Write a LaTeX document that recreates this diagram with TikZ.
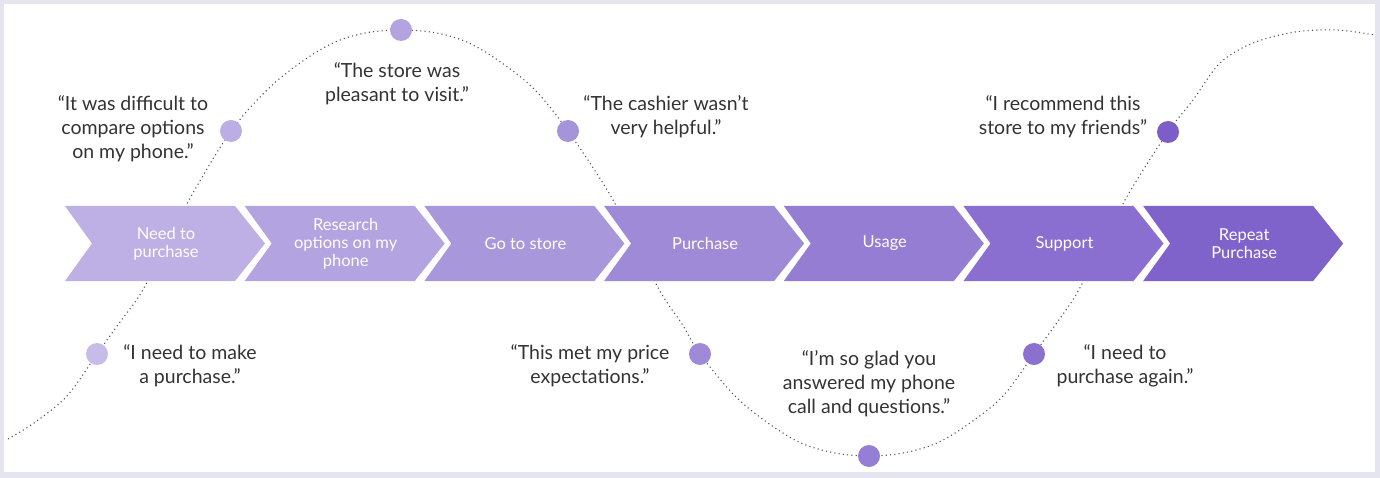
\documentclass[tikz,border=0pt]{standalone}
\usepackage{fontspec}
\setmainfont{Lato}
\definecolor{frame}{HTML}{E5E5EF}
\definecolor{qtext}{HTML}{333333}
\definecolor{cv1}{HTML}{BEB0E5}
\definecolor{cv2}{HTML}{B3A3E1}
\definecolor{cv3}{HTML}{A997DC}
\definecolor{cv4}{HTML}{9F8AD8}
\definecolor{cv5}{HTML}{957DD4}
\definecolor{cv6}{HTML}{8B6FD0}
\definecolor{cv7}{HTML}{8062CB}
\definecolor{dt1}{HTML}{C7BCE8}
\definecolor{dt2}{HTML}{BCAEE4}
\definecolor{dt3}{HTML}{B3A3E0}
\definecolor{dt4}{HTML}{A694DB}
\definecolor{dt5}{HTML}{9F8AD8}
\definecolor{dt6}{HTML}{957ED4}
\definecolor{dt7}{HTML}{8B70D0}
\definecolor{dt8}{HTML}{7C5DCA}
\definecolor{curvec}{HTML}{555555}
\tikzset{
  quote/.style={text=qtext, align=center, font=\fontsize{19.5}{24}\selectfont, inner sep=0pt},
  chevtext/.style={text=white, align=center, font=\fontsize{16.5}{18}\selectfont, inner sep=0pt},
  dotmark/.style={circle, minimum size=22pt, inner sep=0pt, draw=none},
  curveline/.style={draw=curvec, line width=1.1pt, dash pattern=on 1.1pt off 3.2pt},
}
\begin{document}
\begin{tikzpicture}[x=1pt,y=-1pt]
\fill[frame] (0,0) rectangle (1380,478);
\fill[white] (4,4) rectangle (1375,472);
\useasboundingbox (0,0) rectangle (1380,478);
% dotted journey curve
\draw[curveline] plot[smooth, tension=0.55] coordinates {
(8,439) (34,423) (67,396) (97,354) (120,322) (141,293) (167,243) (193,193) (231,131) (267,90) (300,63) (333,43) (365,33) (401,30) (437,33) (469,43) (502,63) (535,90) (568,131) (609,193) (635,243) (661,293) (682,324) (700,354) (735,396) (768,423) (801,443) (835,453) (869,456) (903,453) (937,443) (970,423) (1003,396) (1034,354) (1056,324) (1077,293) (1103,243) (1129,193) (1168,132) (1193,100) (1220,63) (1253,43) (1295,32) (1337,30) (1375,35)};
% chevrons
\foreach \i/\c/\t in {0/cv1/{Need to\\purchase},1/cv2/{Research\\options on my\\phone},2/cv3/{Go to store},3/cv4/{Purchase},4/cv5/{Usage},5/cv6/{Support},6/cv7/{Repeat\\Purchase}}{
  \pgfmathsetmacro{\L}{65+\i*179.7}
  \fill[\c] (\L,206) -- ++(170,0) -- ++(30,37.5) -- ++(-30,37.5) -- ++(-170,0) -- ++(27,-37.5) -- cycle;
  \node[chevtext] (chev\i) at (\L+101,243.5) {\t};
}
% dots
\node[dotmark, fill=dt1] (d1) at (97,354) {};
\node[dotmark, fill=dt2] (d2) at (231,131) {};
\node[dotmark, fill=dt3] (d3) at (401,30) {};
\node[dotmark, fill=dt4] (d4) at (568,131) {};
\node[dotmark, fill=dt5] (d5) at (700,354) {};
\node[dotmark, fill=dt6] (d6) at (869,456) {};
\node[dotmark, fill=dt7] (d7) at (1034,354) {};
\node[dotmark, fill=dt8] (d8) at (1168,132) {};
% quotes
\node[quote] (q1) at (190,366) {“I need to make\\a purchase.”};
\node[quote] (q2) at (133,129) {“It was difficult to\\compare options\\on my phone.”};
\node[quote] (q3) at (397,84) {“The store was\\pleasant to visit.”};
\node[quote] (q4) at (666,117) {“The cashier wasn’t\\very helpful.”};
\node[quote] (q5) at (590,366) {“This met my price\\expectations.”};
\node[quote] (q6) at (869,384) {“I’m so glad you\\answered my phone\\call and questions.”};
\node[quote] (q7) at (1125,366) {“I need to\\purchase again.”};
\node[quote] (q8) at (1063,117) {“I recommend this\\store to my friends”};
\end{tikzpicture}
\end{document}
